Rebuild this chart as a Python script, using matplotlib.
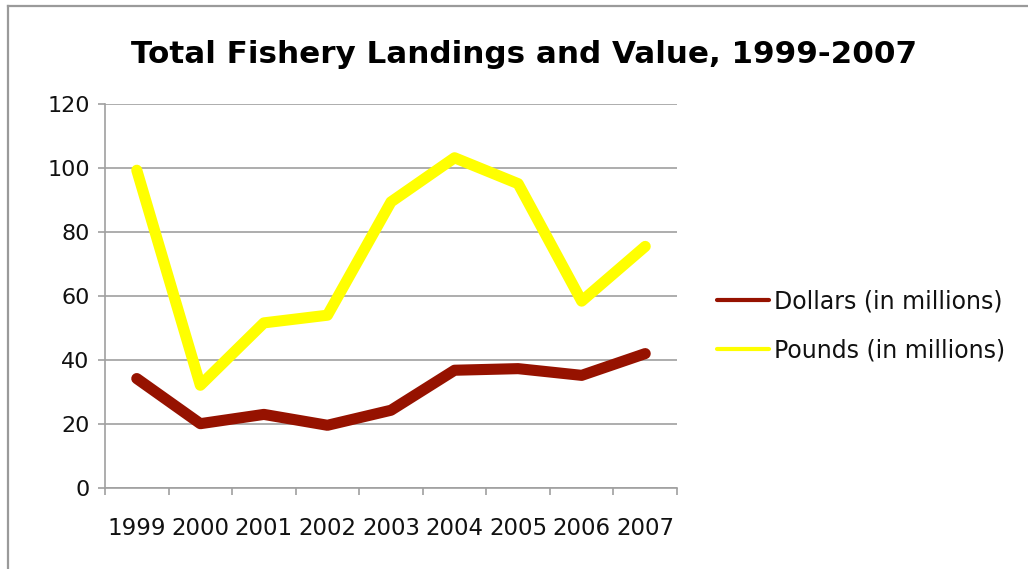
import matplotlib
matplotlib.use("Agg")
import matplotlib.pyplot as plt
from matplotlib.lines import Line2D

years = ["1999", "2000", "2001", "2002", "2003", "2004", "2005", "2006", "2007"]
dollars = [34.2, 20.1, 23.0, 19.6, 24.3, 36.8, 37.3, 35.2, 42.0]
pounds = [99.3, 32.1, 51.6, 54.0, 89.4, 103.2, 95.1, 58.4, 75.5]
y_ticks = [0, 20, 40, 60, 80, 100, 120]

dollar_col = "#961200"
pound_col = "#FFFF00"

W, H = 1028, 569
fig = plt.figure(figsize=(W / 100, H / 100), dpi=100)
fig.patch.set_facecolor("white")

# outer chart frame (top and left edges)
frame_col = "#9a9a9a"
fig.add_artist(Line2D([8 / W, 1.0], [1 - 6 / H, 1 - 6 / H], color=frame_col, lw=1.6,
                      transform=fig.transFigure))
fig.add_artist(Line2D([8 / W, 8 / W], [0.0, 1 - 6 / H], color=frame_col, lw=1.6,
                      transform=fig.transFigure))

ax = fig.add_axes([105 / W, (H - 488) / H, (677 - 105) / W, (488 - 104) / H])

x = list(range(len(years)))
ax.plot(x, dollars, color=dollar_col, lw=8, solid_capstyle="round",
        solid_joinstyle="round", zorder=3)
ax.plot(x, pounds, color=pound_col, lw=8, solid_capstyle="round",
        solid_joinstyle="round", zorder=3)

ax.set_xlim(-0.5, len(years) - 0.5)
ax.set_ylim(0, 120)

axis_col = "#a0a0a0"
text_col = "#111111"
ax.set_yticks(y_ticks)
ax.set_yticklabels([str(v) for v in y_ticks], fontsize=16, color=text_col)
ax.yaxis.grid(True, color=axis_col, lw=1.2)
ax.set_axisbelow(True)

# category boundaries carry the tick marks, centers carry the labels
ax.set_xticks([i - 0.5 for i in range(len(years) + 1)])
ax.set_xticklabels([])
ax.set_xticks(x, minor=True)
ax.set_xticklabels(years, minor=True, fontsize=16.5, color=text_col)
ax.tick_params(axis="x", which="minor", length=0, pad=21)
ax.tick_params(axis="x", which="major", length=5, width=1.2, color=axis_col)
ax.tick_params(axis="y", length=5, width=1.2, color=axis_col, pad=6)

for s in ("top", "right"):
    ax.spines[s].set_visible(False)
for s in ("left", "bottom"):
    ax.spines[s].set_color(axis_col)
    ax.spines[s].set_linewidth(1.2)

fig.text(524 / W, 1 - 63 / H, "Total Fishery Landings and Value, 1999-2007",
         ha="center", va="baseline", fontsize=22.3, fontweight="bold", color="black")

handles = [Line2D([], [], color=dollar_col, lw=3, solid_capstyle="round"),
           Line2D([], [], color=pound_col, lw=3, solid_capstyle="round")]
labels = ["Dollars (in millions)", "Pounds (in millions)"]
fig.legend(handles, labels, loc="center left", bbox_to_anchor=(717 / W, 1 - 326 / H),
           frameon=False, fontsize=17, handlelength=2.2, handletextpad=0.2,
           labelspacing=1.05, borderpad=0, borderaxespad=0, labelcolor=text_col)

fig.savefig("out.png", dpi=100, facecolor="white")
